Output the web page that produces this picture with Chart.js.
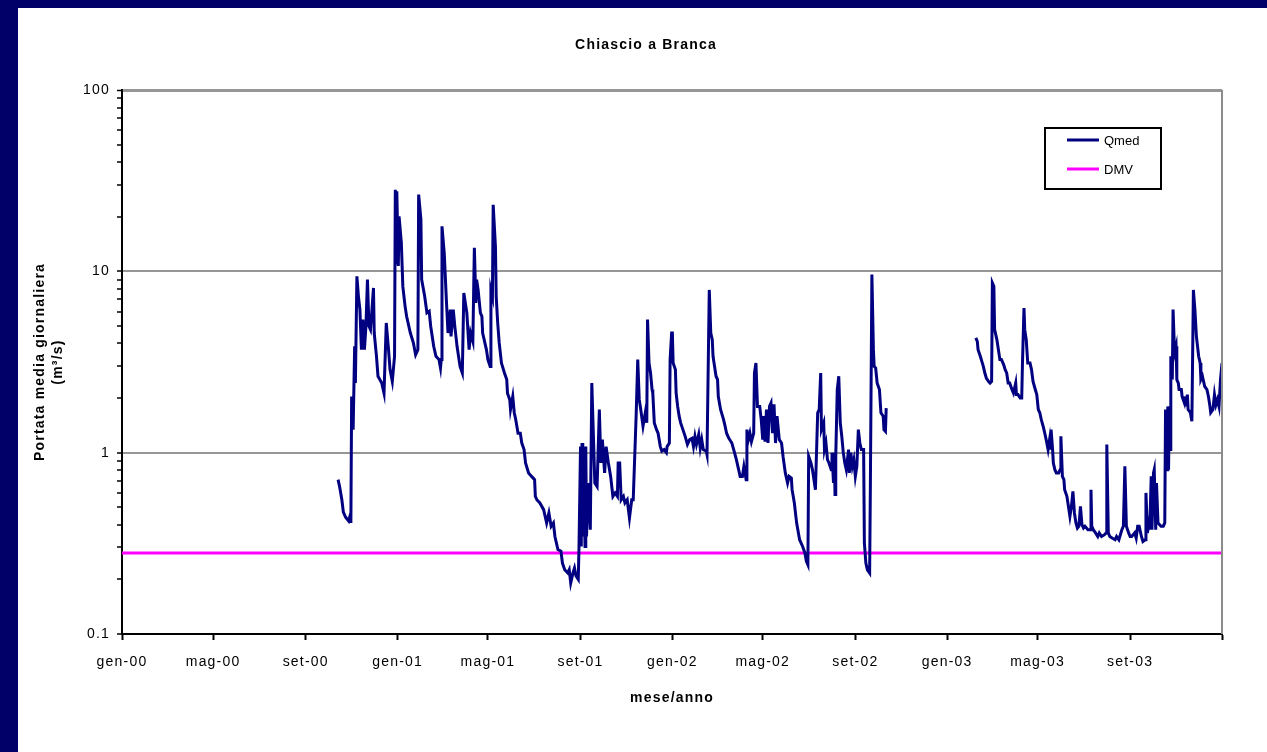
<!DOCTYPE html>
<html>
<head>
    <title>Chiascio a Branca</title>
    <script src="https://cdn.jsdelivr.net/npm/chart.js"></script>
    <style>
        body {
            margin: 0;
            background: #000068;
            width: 1267px;
            height: 752px;
            overflow: hidden;
            position: relative;
            font-family: 'Liberation Sans', Arial, sans-serif;
        }
        #panel {
            position: absolute;
            left: 18px;
            top: 8px;
            width: 1249px;
            height: 744px;
            background: white;
        }
    </style>
</head>
<body>

<div id="panel">
    <canvas id="flowChart" width="1249" height="744"></canvas>
</div>

<script>
    // x values are days counted from 1 Jan 2000
    const tickDays = [0, 121, 244, 366, 486, 609, 731, 851, 974, 1096, 1216, 1339, 1461];
    const tickLabels = ["gen-00", "mag-00", "set-00", "gen-01", "mag-01", "set-01", "gen-02",
                        "mag-02", "set-02", "gen-03", "mag-03", "set-03", ""];
    const yMajor = [0.1, 1, 10, 100];
    const yMajorLabels = ["0.1", "1", "10", "100"];

    // Qmed, Oct 2000 - Oct 2002
    const days1 = [287,289,292,294,297,301,303,304,305,307,309,310,312,314,316,318,320,322,324,326,
        328,330,332,334,335,338,340,345,348,351,354,356,359,362,363,364,365,367,368,371,
        373,376,378,383,387,390,393,394,397,398,402,405,408,410,414,417,421,423,424,425,
        428,431,433,436,437,440,442,445,449,452,454,458,461,463,466,468,470,471,473,476,
        478,479,481,484,486,489,490,492,493,496,497,499,501,504,508,511,512,515,516,519,
        521,523,526,529,531,534,536,540,544,548,549,551,555,560,564,567,570,573,575,579,
        583,585,588,592,594,596,599,601,603,606,607,609,610,611,612,613,615,616,617,619,
        622,624,626,628,631,634,636,638,641,643,646,649,652,655,658,659,661,663,666,668,
        671,674,677,679,683,685,687,689,692,695,697,698,700,702,704,705,707,710,712,715,
        717,720,723,724,727,728,730,731,732,735,736,738,740,742,745,748,751,754,757,759,
        761,763,766,768,770,772,776,777,780,782,784,785,789,791,792,795,799,801,803,806,
        810,813,816,819,821,824,826,829,830,832,834,836,839,840,842,844,847,849,851,852,
        854,856,858,860,862,864,866,868,870,873,876,878,881,884,886,889,890,893,896,900,
        904,907,909,911,912,915,917,919,921,924,926,928,929,932,933,935,937,939,942,943,
        945,946,947,948,950,952,954,956,958,960,962,965,966,968,970,972,974,976,978,980,
        982,985,986,988,990,993,994,996,998,999,1001,1003,1006,1008,1011,1012,1014,1015];
    const vals1 = [0.71,0.65,0.55,0.47,0.44,0.42,0.45,0.41,2.04,1.34,3.86,2.42,9.38,7.28,6.15,3.7,5.42,3.7,4.98,9.0,
        4.98,4.77,6.15,8.1,4.57,3.4,2.64,2.42,2.13,5.19,3.7,2.87,2.47,3.4,28.2,11.1,27.6,10.7,20.1,14.4,
        8.26,6.41,5.65,4.57,4.03,3.47,3.7,26.5,19.3,9.0,7.28,5.9,6.02,4.98,3.86,3.4,3.26,2.93,3.26,17.7,
        12.6,6.7,4.57,6.15,4.38,6.15,4.98,3.86,2.99,2.75,7.6,5.9,3.7,4.57,4.11,13.5,6.7,9.0,7.9,5.9,
        5.65,4.57,4.2,3.7,3.26,2.99,7.9,7.28,23.3,13.7,7.28,5.19,4.03,3.12,2.75,2.53,2.13,1.96,1.73,2.04,
        1.66,1.52,1.28,1.28,1.13,1.04,0.877,0.773,0.74,0.71,0.574,0.55,0.528,0.485,0.41,0.465,0.393,0.41,0.345,0.292,
        0.286,0.246,0.226,0.217,0.226,0.191,0.217,0.231,0.209,0.2,0.304,1.08,0.304,1.13,0.345,0.71,0.304,1.08,0.345,0.68,
        0.376,2.42,1.28,0.68,0.65,1.73,0.877,1.18,0.773,1.08,0.877,0.74,0.574,0.6,0.574,0.877,0.877,0.55,0.574,0.528,
        0.55,0.436,0.55,0.55,1.66,3.26,1.96,1.73,1.4,1.66,1.46,5.42,3.12,2.75,2.23,2.13,1.46,1.34,1.28,1.08,
        1.02,1.04,1.0,1.08,1.13,3.26,4.57,4.57,3.12,2.87,2.13,1.8,1.59,1.46,1.34,1.23,1.11,1.18,1.2,1.08,
        1.23,1.11,1.26,1.06,1.18,1.04,1.02,0.975,7.9,4.57,4.2,3.4,2.64,2.53,2.04,1.73,1.52,1.4,1.28,1.2,
        1.13,1.02,0.915,0.806,0.74,0.74,0.84,0.71,1.34,1.18,1.28,1.15,1.28,2.75,3.12,1.8,1.8,1.52,1.18,1.59,
        1.15,1.73,1.13,1.8,1.88,1.28,1.85,1.13,1.59,1.18,1.13,0.954,0.773,0.68,0.74,0.725,0.625,0.528,0.41,0.331,
        0.304,0.28,0.252,0.241,0.954,0.877,0.806,0.71,0.625,1.66,1.73,2.75,1.34,1.46,1.04,1.13,0.915,0.877,0.806,1.0,
        0.68,1.0,0.587,0.954,2.23,2.64,1.46,1.23,1.0,0.877,0.806,1.04,0.773,1.0,0.84,0.915,0.74,0.84,1.34,1.13,
        1.04,1.04,0.318,0.246,0.226,0.217,0.68,9.6,3.7,2.99,2.93,2.42,2.23,1.66,1.59,1.34,1.31,1.76];

    // Qmed, Feb 2003 - Dec 2003
    const days2 = [1134,1136,1137,1140,1142,1144,1146,1148,1151,1153,1155,1156,1158,1159,1162,1164,1166,1168,1171,1173,
        1175,1177,1179,1182,1184,1187,1188,1190,1193,1195,1196,1198,1199,1201,1203,1206,1208,1210,1213,1215,
        1217,1219,1221,1224,1226,1228,1230,1232,1233,1234,1236,1237,1239,1241,1244,1246,1247,1249,1251,1252,
        1255,1257,1259,1261,1263,1265,1267,1269,1271,1273,1275,1277,1279,1283,1286,1287,1288,1290,1293,1296,
        1298,1301,1305,1307,1308,1310,1312,1315,1319,1321,1324,1328,1330,1332,1334,1337,1339,1341,1345,1347,
        1349,1351,1354,1356,1359,1360,1362,1364,1365,1367,1368,1370,1371,1373,1374,1376,1377,1380,1383,1385,
        1386,1388,1389,1390,1391,1392,1393,1395,1396,1398,1400,1401,1403,1404,1407,1408,1411,1412,1413,1415,
        1416,1419,1421,1423,1425,1427,1430,1432,1433,1435,1438,1441,1443,1445,1446,1449,1451,1453,1455,1457,
        1459,1461];
    const vals2 = [4.29,4.11,3.7,3.4,3.19,2.99,2.75,2.58,2.47,2.42,2.47,8.63,8.26,4.77,4.2,3.7,3.26,3.26,3.06,2.87,
        2.75,2.42,2.42,2.23,2.13,2.42,2.09,2.09,2.0,2.0,3.12,6.28,4.77,4.2,3.12,3.12,2.87,2.47,2.23,2.09,
        1.73,1.66,1.52,1.37,1.26,1.15,1.04,1.18,1.04,1.34,1.04,0.877,0.806,0.773,0.773,0.806,1.23,0.74,0.71,0.625,
        0.574,0.506,0.445,0.506,0.612,0.465,0.41,0.384,0.393,0.506,0.401,0.384,0.393,0.376,0.376,0.625,0.393,0.376,0.361,0.345,
        0.361,0.345,0.353,0.361,1.11,0.361,0.345,0.338,0.331,0.345,0.331,0.376,0.393,0.84,0.393,0.361,0.345,0.345,0.361,0.338,
        0.393,0.393,0.345,0.324,0.331,0.6,0.361,0.41,0.376,0.74,0.376,0.773,0.806,0.376,0.68,0.41,0.41,0.393,0.393,0.41,
        1.73,0.806,1.8,0.806,1.73,1.04,3.4,2.53,6.15,3.55,3.86,2.53,2.42,2.23,2.23,2.04,1.88,2.04,1.8,2.09,
        1.73,1.66,1.49,7.9,6.15,4.38,3.4,3.12,2.53,2.64,2.32,2.23,2.04,1.8,1.66,1.73,2.09,1.84,1.96,1.8,
        2.53,3.12];

    const dmvValue = 0.28;
    const gapDay = 1075;

    const qmedPoints = days1.map((d, i) => ({ x: d, y: vals1[i] }))
        .concat([{ x: gapDay, y: null }])
        .concat(days2.map((d, i) => ({ x: d, y: vals2[i] })));

    const yTicks = [];
    yMajor.slice(0, -1).forEach(m => {
        for (let k = 1; k < 10; k++) yTicks.push(+(m * k).toPrecision(2));
    });
    yTicks.push(100);

    const decorations = {
        id: 'decorations',
        beforeDraw(chart) {
            chart.ctx.letterSpacing = '1.2px';
        },
        afterDraw(chart) {
            const ctx = chart.ctx;
            const a = chart.chartArea;
            ctx.save();
            // right frame
            ctx.strokeStyle = '#8c8c8c';
            ctx.lineWidth = 2;
            ctx.beginPath();
            ctx.moveTo(a.right, a.top);
            ctx.lineTo(a.right, a.bottom);
            ctx.stroke();

            ctx.fillStyle = '#000';
            ctx.textAlign = 'center';
            ctx.textBaseline = 'middle';
            ctx.font = "bold 14px 'Liberation Sans'";
            ctx.fillText('Chiascio a Branca', 628, 37);
            ctx.fillText('mese/anno', (a.left + a.right) / 2, 690);

            ctx.save();
            ctx.translate(22, (a.top + a.bottom) / 2);
            ctx.rotate(-Math.PI / 2);
            ctx.fillText('Portata media giornaliera', 0, 0);
            ctx.fillText('(m³/s)', 0, 18);
            ctx.restore();

            // legend
            const lx = 1027, ly = 120, lw = 116, lh = 61;
            ctx.fillStyle = '#fff';
            ctx.fillRect(lx, ly, lw, lh);
            ctx.strokeStyle = '#000';
            ctx.lineWidth = 2;
            ctx.strokeRect(lx, ly, lw, lh);
            ctx.font = "13px 'Liberation Sans'";
            ctx.letterSpacing = '0px';
            ctx.textAlign = 'left';
            chart.data.datasets.forEach((ds, i) => {
                const yy = ly + 12 + i * 29;
                ctx.strokeStyle = ds.borderColor;
                ctx.lineWidth = 3;
                ctx.beginPath();
                ctx.moveTo(lx + 22, yy);
                ctx.lineTo(lx + 54, yy);
                ctx.stroke();
                ctx.fillStyle = '#000';
                ctx.fillText(ds.label, lx + 59, yy + 1);
            });
            ctx.restore();
        }
    };

    new Chart(document.getElementById('flowChart'), {
        type: 'line',
        data: {
            datasets: [{
                label: 'Qmed',
                data: qmedPoints,
                borderColor: '#000080',
                borderWidth: 3,
                pointRadius: 0,
                tension: 0,
                spanGaps: false
            }, {
                label: 'DMV',
                data: [{ x: tickDays[0], y: dmvValue }, { x: tickDays[tickDays.length - 1], y: dmvValue }],
                borderColor: '#ff00ff',
                borderWidth: 3,
                pointRadius: 0
            }]
        },
        options: {
            responsive: false,
            animation: false,
            layout: {
                padding: { top: 82, right: 45, left: 0, bottom: 0 }
            },
            plugins: {
                legend: { display: false },
                title: { display: false },
                tooltip: { enabled: false }
            },
            scales: {
                x: {
                    type: 'linear',
                    min: tickDays[0],
                    max: tickDays[tickDays.length - 1],
                    afterFit: s => { s.height = 118; },
                    afterBuildTicks: s => { s.ticks = tickDays.map(v => ({ value: v })); },
                    ticks: {
                        autoSkip: false,
                        maxRotation: 0,
                        padding: 14,
                        color: '#000',
                        font: { family: 'Liberation Sans', size: 14 },
                        callback: (v, i) => tickLabels[i]
                    },
                    grid: {
                        drawOnChartArea: false,
                        drawTicks: true,
                        tickLength: 6,
                        tickColor: '#000',
                        tickWidth: 2
                    },
                    border: { color: '#000', width: 2 }
                },
                y: {
                    type: 'logarithmic',
                    min: 0.1,
                    max: 100,
                    afterFit: s => { s.width = 104; },
                    afterBuildTicks: s => { s.ticks = yTicks.map(v => ({ value: v })); },
                    ticks: {
                        autoSkip: false,
                        padding: 7,
                        color: '#000',
                        font: { family: 'Liberation Sans', size: 14 },
                        callback: v => {
                            const i = yMajor.indexOf(v);
                            return i >= 0 ? yMajorLabels[i] : '';
                        }
                    },
                    grid: {
                        color: c => (yMajor.includes(c.tick.value) && c.tick.value > 0.1) ? '#969696' : 'rgba(0,0,0,0)',
                        lineWidth: c => c.tick.value === 100 ? 3 : 2,
                        tickColor: '#000',
                        tickWidth: 1.5,
                        tickLength: 5
                    },
                    border: { color: '#000', width: 2 }
                }
            }
        },
        plugins: [decorations]
    });
</script>

</body>
</html>
